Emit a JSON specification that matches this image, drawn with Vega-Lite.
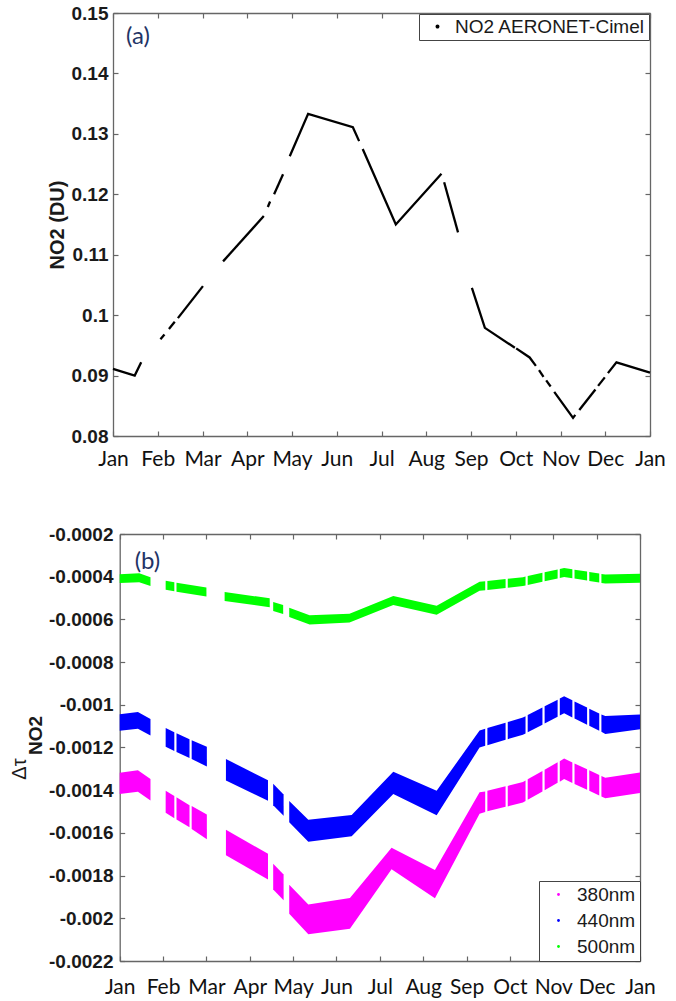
{
  "$schema": "https://vega.github.io/schema/vega-lite/v6.json",
  "background": "white",
  "padding": {"left": 9, "top": 4, "right": 5, "bottom": 5},
  "spacing": 56,
  "config": {
    "view": {"stroke": null},
    "axis": {"domainColor": "#666666", "tickColor": "#666666", "domainWidth": 1.3, "tickWidth": 1.2, "grid": false, "labelColor": "#1a1a1a", "titleColor": "#1a1a1a"}
  },
  "resolve": {"scale": {"x": "independent", "y": "independent", "color": "independent"}},
  "datasets": {
    "no2": [
      {"s": 1, "m": 0, "v": 0.0911}, {"s": 1, "m": 0.485, "v": 0.09}, {"s": 1, "m": 0.63, "v": 0.0922},
      {"s": 2, "m": 1.06, "v": 0.096}, {"s": 2, "m": 1.15, "v": 0.0968},
      {"s": 3, "m": 1.25, "v": 0.0977}, {"s": 3, "m": 1.38, "v": 0.0989},
      {"s": 4, "m": 1.45, "v": 0.0995}, {"s": 4, "m": 2.01, "v": 0.1048},
      {"s": 5, "m": 2.46, "v": 0.1089}, {"s": 5, "m": 3.37, "v": 0.1164},
      {"s": 6, "m": 3.46, "v": 0.1179}, {"s": 6, "m": 3.51, "v": 0.1188},
      {"s": 7, "m": 3.6, "v": 0.12}, {"s": 7, "m": 3.8, "v": 0.1233},
      {"s": 8, "m": 3.95, "v": 0.1263}, {"s": 8, "m": 4.36, "v": 0.1333}, {"s": 8, "m": 5.36, "v": 0.1311}, {"s": 8, "m": 5.5, "v": 0.1288},
      {"s": 9, "m": 5.58, "v": 0.1275}, {"s": 9, "m": 6.32, "v": 0.115}, {"s": 9, "m": 7.34, "v": 0.1234},
      {"s": 10, "m": 7.4, "v": 0.122}, {"s": 10, "m": 7.71, "v": 0.1137},
      {"s": 11, "m": 8.02, "v": 0.1045}, {"s": 11, "m": 8.31, "v": 0.0979}, {"s": 11, "m": 8.98, "v": 0.0946},
      {"s": 12, "m": 9.01, "v": 0.0945}, {"s": 12, "m": 9.31, "v": 0.093}, {"s": 12, "m": 9.45, "v": 0.0916},
      {"s": 13, "m": 9.52, "v": 0.0909}, {"s": 13, "m": 9.62, "v": 0.0898},
      {"s": 14, "m": 9.68, "v": 0.0892}, {"s": 14, "m": 9.78, "v": 0.0882},
      {"s": 15, "m": 9.86, "v": 0.0873}, {"s": 15, "m": 10.28, "v": 0.083}, {"s": 15, "m": 10.33, "v": 0.0835},
      {"s": 16, "m": 10.42, "v": 0.0843}, {"s": 16, "m": 10.78, "v": 0.0877},
      {"s": 17, "m": 10.84, "v": 0.0883}, {"s": 17, "m": 10.99, "v": 0.0897},
      {"s": 18, "m": 11.06, "v": 0.0904}, {"s": 18, "m": 11.25, "v": 0.0922}, {"s": 18, "m": 12, "v": 0.0905}
    ],
    "tau": [
      {"wl": "500nm", "s": 1, "m": 0, "hi": -0.000388, "lo": -0.00043},
      {"wl": "500nm", "s": 1, "m": 0.45, "hi": -0.000384, "lo": -0.000426},
      {"wl": "500nm", "s": 1, "m": 0.71, "hi": -0.000402, "lo": -0.000444},
      {"wl": "500nm", "s": 2, "m": 1.06, "hi": -0.000419, "lo": -0.000461},
      {"wl": "500nm", "s": 2, "m": 1.26, "hi": -0.000426, "lo": -0.000468},
      {"wl": "500nm", "s": 3, "m": 1.31, "hi": -0.000428, "lo": -0.00047},
      {"wl": "500nm", "s": 3, "m": 2.0, "hi": -0.000451, "lo": -0.000493},
      {"wl": "500nm", "s": 4, "m": 2.42, "hi": -0.000472, "lo": -0.000514},
      {"wl": "500nm", "s": 4, "m": 3.46, "hi": -0.000501, "lo": -0.000543},
      {"wl": "500nm", "s": 5, "m": 3.54, "hi": -0.000519, "lo": -0.000561},
      {"wl": "500nm", "s": 5, "m": 3.77, "hi": -0.000533, "lo": -0.000575},
      {"wl": "500nm", "s": 6, "m": 3.91, "hi": -0.000545, "lo": -0.000589},
      {"wl": "500nm", "s": 6, "m": 4.38, "hi": -0.00058, "lo": -0.000624},
      {"wl": "500nm", "s": 6, "m": 5.3, "hi": -0.000573, "lo": -0.000615},
      {"wl": "500nm", "s": 6, "m": 6.31, "hi": -0.00049, "lo": -0.000532},
      {"wl": "500nm", "s": 6, "m": 7.31, "hi": -0.000536, "lo": -0.000578},
      {"wl": "500nm", "s": 6, "m": 8.3, "hi": -0.000424, "lo": -0.000466},
      {"wl": "500nm", "s": 6, "m": 8.43, "hi": -0.000421, "lo": -0.000463},
      {"wl": "500nm", "s": 7, "m": 8.48, "hi": -0.00042, "lo": -0.000462},
      {"wl": "500nm", "s": 7, "m": 8.9, "hi": -0.000411, "lo": -0.000453},
      {"wl": "500nm", "s": 8, "m": 8.95, "hi": -0.00041, "lo": -0.000452},
      {"wl": "500nm", "s": 8, "m": 9.3, "hi": -0.000402, "lo": -0.000444},
      {"wl": "500nm", "s": 8, "m": 9.36, "hi": -0.000399, "lo": -0.000441},
      {"wl": "500nm", "s": 9, "m": 9.41, "hi": -0.000397, "lo": -0.000439},
      {"wl": "500nm", "s": 9, "m": 9.75, "hi": -0.000382, "lo": -0.000424},
      {"wl": "500nm", "s": 10, "m": 9.8, "hi": -0.000379, "lo": -0.000421},
      {"wl": "500nm", "s": 10, "m": 10.1, "hi": -0.000366, "lo": -0.000408},
      {"wl": "500nm", "s": 11, "m": 10.15, "hi": -0.000364, "lo": -0.000406},
      {"wl": "500nm", "s": 11, "m": 10.25, "hi": -0.000359, "lo": -0.000401},
      {"wl": "500nm", "s": 11, "m": 10.44, "hi": -0.000365, "lo": -0.000407},
      {"wl": "500nm", "s": 12, "m": 10.49, "hi": -0.000367, "lo": -0.000409},
      {"wl": "500nm", "s": 12, "m": 10.78, "hi": -0.000376, "lo": -0.000418},
      {"wl": "500nm", "s": 13, "m": 10.83, "hi": -0.000378, "lo": -0.00042},
      {"wl": "500nm", "s": 13, "m": 11.06, "hi": -0.000385, "lo": -0.000427},
      {"wl": "500nm", "s": 14, "m": 11.11, "hi": -0.000387, "lo": -0.000429},
      {"wl": "500nm", "s": 14, "m": 11.2, "hi": -0.00039, "lo": -0.000432},
      {"wl": "500nm", "s": 14, "m": 12, "hi": -0.000386, "lo": -0.000428},

      {"wl": "440nm", "s": 1, "m": 0, "hi": -0.001044, "lo": -0.001122},
      {"wl": "440nm", "s": 1, "m": 0.42, "hi": -0.001034, "lo": -0.001112},
      {"wl": "440nm", "s": 1, "m": 0.71, "hi": -0.001066, "lo": -0.001144},
      {"wl": "440nm", "s": 2, "m": 1.06, "hi": -0.001109, "lo": -0.001197},
      {"wl": "440nm", "s": 2, "m": 1.26, "hi": -0.001128, "lo": -0.001216},
      {"wl": "440nm", "s": 3, "m": 1.31, "hi": -0.001133, "lo": -0.001221},
      {"wl": "440nm", "s": 3, "m": 1.61, "hi": -0.001161, "lo": -0.001249},
      {"wl": "440nm", "s": 4, "m": 1.66, "hi": -0.001166, "lo": -0.001254},
      {"wl": "440nm", "s": 4, "m": 2.01, "hi": -0.001197, "lo": -0.001289},
      {"wl": "440nm", "s": 5, "m": 2.45, "hi": -0.001254, "lo": -0.001354},
      {"wl": "440nm", "s": 5, "m": 3.42, "hi": -0.001353, "lo": -0.001449},
      {"wl": "440nm", "s": 6, "m": 3.54, "hi": -0.00137, "lo": -0.00147},
      {"wl": "440nm", "s": 6, "m": 3.78, "hi": -0.00142, "lo": -0.00152},
      {"wl": "440nm", "s": 7, "m": 3.91, "hi": -0.00145, "lo": -0.00155},
      {"wl": "440nm", "s": 7, "m": 4.35, "hi": -0.001538, "lo": -0.001642},
      {"wl": "440nm", "s": 7, "m": 5.35, "hi": -0.001516, "lo": -0.001616},
      {"wl": "440nm", "s": 7, "m": 6.31, "hi": -0.001314, "lo": -0.001418},
      {"wl": "440nm", "s": 7, "m": 7.31, "hi": -0.001403, "lo": -0.001517},
      {"wl": "440nm", "s": 7, "m": 8.3, "hi": -0.00112, "lo": -0.0012},
      {"wl": "440nm", "s": 7, "m": 8.43, "hi": -0.001112, "lo": -0.001192},
      {"wl": "440nm", "s": 8, "m": 8.48, "hi": -0.001109, "lo": -0.001189},
      {"wl": "440nm", "s": 8, "m": 8.9, "hi": -0.001084, "lo": -0.001164},
      {"wl": "440nm", "s": 9, "m": 8.95, "hi": -0.001081, "lo": -0.001161},
      {"wl": "440nm", "s": 9, "m": 9.3, "hi": -0.00106, "lo": -0.00114},
      {"wl": "440nm", "s": 9, "m": 9.36, "hi": -0.001054, "lo": -0.001134},
      {"wl": "440nm", "s": 10, "m": 9.41, "hi": -0.001048, "lo": -0.001128},
      {"wl": "440nm", "s": 10, "m": 9.75, "hi": -0.001013, "lo": -0.001093},
      {"wl": "440nm", "s": 11, "m": 9.8, "hi": -0.001007, "lo": -0.001087},
      {"wl": "440nm", "s": 11, "m": 10.1, "hi": -0.000976, "lo": -0.001056},
      {"wl": "440nm", "s": 12, "m": 10.15, "hi": -0.00097, "lo": -0.00105},
      {"wl": "440nm", "s": 12, "m": 10.25, "hi": -0.00096, "lo": -0.00104},
      {"wl": "440nm", "s": 12, "m": 10.44, "hi": -0.000979, "lo": -0.001059},
      {"wl": "440nm", "s": 13, "m": 10.49, "hi": -0.000984, "lo": -0.001064},
      {"wl": "440nm", "s": 13, "m": 10.78, "hi": -0.001013, "lo": -0.001093},
      {"wl": "440nm", "s": 14, "m": 10.83, "hi": -0.001018, "lo": -0.001098},
      {"wl": "440nm", "s": 14, "m": 11.06, "hi": -0.001041, "lo": -0.001121},
      {"wl": "440nm", "s": 15, "m": 11.11, "hi": -0.001046, "lo": -0.001126},
      {"wl": "440nm", "s": 15, "m": 11.2, "hi": -0.001053, "lo": -0.001137},
      {"wl": "440nm", "s": 15, "m": 12, "hi": -0.001045, "lo": -0.001115},

      {"wl": "380nm", "s": 1, "m": 0, "hi": -0.001318, "lo": -0.001418},
      {"wl": "380nm", "s": 1, "m": 0.42, "hi": -0.001307, "lo": -0.001407},
      {"wl": "380nm", "s": 1, "m": 0.71, "hi": -0.001348, "lo": -0.001448},
      {"wl": "380nm", "s": 2, "m": 1.06, "hi": -0.001402, "lo": -0.001506},
      {"wl": "380nm", "s": 2, "m": 1.26, "hi": -0.001427, "lo": -0.001531},
      {"wl": "380nm", "s": 3, "m": 1.31, "hi": -0.001433, "lo": -0.001537},
      {"wl": "380nm", "s": 3, "m": 1.61, "hi": -0.00147, "lo": -0.001574},
      {"wl": "380nm", "s": 4, "m": 1.66, "hi": -0.001474, "lo": -0.001582},
      {"wl": "380nm", "s": 4, "m": 2.01, "hi": -0.001514, "lo": -0.00163},
      {"wl": "380nm", "s": 5, "m": 2.45, "hi": -0.001585, "lo": -0.001705},
      {"wl": "380nm", "s": 5, "m": 3.42, "hi": -0.001698, "lo": -0.001818},
      {"wl": "380nm", "s": 6, "m": 3.54, "hi": -0.001745, "lo": -0.001865},
      {"wl": "380nm", "s": 6, "m": 3.78, "hi": -0.001795, "lo": -0.001915},
      {"wl": "380nm", "s": 7, "m": 3.91, "hi": -0.001843, "lo": -0.001979},
      {"wl": "380nm", "s": 7, "m": 4.35, "hi": -0.001935, "lo": -0.002075},
      {"wl": "380nm", "s": 7, "m": 5.31, "hi": -0.001905, "lo": -0.002049},
      {"wl": "380nm", "s": 7, "m": 6.27, "hi": -0.00167, "lo": -0.00177},
      {"wl": "380nm", "s": 7, "m": 7.27, "hi": -0.001774, "lo": -0.001906},
      {"wl": "380nm", "s": 7, "m": 8.3, "hi": -0.00141, "lo": -0.00151},
      {"wl": "380nm", "s": 7, "m": 8.43, "hi": -0.001406, "lo": -0.001502},
      {"wl": "380nm", "s": 8, "m": 8.48, "hi": -0.001403, "lo": -0.001499},
      {"wl": "380nm", "s": 8, "m": 8.9, "hi": -0.001382, "lo": -0.001478},
      {"wl": "380nm", "s": 9, "m": 8.95, "hi": -0.00138, "lo": -0.001476},
      {"wl": "380nm", "s": 9, "m": 9.3, "hi": -0.001362, "lo": -0.001458},
      {"wl": "380nm", "s": 9, "m": 9.36, "hi": -0.001355, "lo": -0.001451},
      {"wl": "380nm", "s": 10, "m": 9.41, "hi": -0.001349, "lo": -0.001445},
      {"wl": "380nm", "s": 10, "m": 9.75, "hi": -0.00131, "lo": -0.001406},
      {"wl": "380nm", "s": 11, "m": 9.8, "hi": -0.001304, "lo": -0.0014},
      {"wl": "380nm", "s": 11, "m": 10.1, "hi": -0.001269, "lo": -0.001365},
      {"wl": "380nm", "s": 12, "m": 10.15, "hi": -0.001264, "lo": -0.00136},
      {"wl": "380nm", "s": 12, "m": 10.25, "hi": -0.001252, "lo": -0.001348},
      {"wl": "380nm", "s": 12, "m": 10.44, "hi": -0.00127, "lo": -0.001366},
      {"wl": "380nm", "s": 13, "m": 10.49, "hi": -0.001275, "lo": -0.001371},
      {"wl": "380nm", "s": 13, "m": 10.78, "hi": -0.001302, "lo": -0.001398},
      {"wl": "380nm", "s": 14, "m": 10.83, "hi": -0.001307, "lo": -0.001403},
      {"wl": "380nm", "s": 14, "m": 11.06, "hi": -0.001329, "lo": -0.001425},
      {"wl": "380nm", "s": 15, "m": 11.11, "hi": -0.001333, "lo": -0.001429},
      {"wl": "380nm", "s": 15, "m": 11.2, "hi": -0.001342, "lo": -0.001438},
      {"wl": "380nm", "s": 15, "m": 12, "hi": -0.001317, "lo": -0.001413}
    ],
    "annA": [{"m": 0.29, "v": 0.1461, "t": "(a)"}],
    "annB": [{"m": 0.346, "v": -0.000331, "t": "(b)"}]
  },
  "vconcat": [
    {
      "width": 537,
      "height": 423,
      "resolve": {"axis": {"x": "independent", "y": "independent"}},
      "layer": [
        {
          "data": {"name": "no2"},
          "mark": {"type": "line", "strokeWidth": 2.3, "strokeCap": "butt"},
          "encoding": {
            "x": {"field": "m", "type": "quantitative",
              "scale": {"domain": [0, 12], "nice": false, "zero": false},
              "axis": {"orient": "bottom", "title": null, "values": [0,1,2,3,4,5,6,7,8,9,10,11,12],
                "labelExpr": "['Jan','Feb','Mar','Apr','May','Jun','Jul','Aug','Sep','Oct','Nov','Dec','Jan'][datum.value]",
                "tickSize": -5, "labelPadding": 17, "labelFlush": false, "labelOverlap": false,
                "labelFont": "Lato", "labelFontSize": 21, "labelColor": "#111111"}},
            "y": {"field": "v", "type": "quantitative",
              "scale": {"domain": [0.08, 0.15], "nice": false, "zero": false},
              "axis": {"orient": "left", "values": [0.08,0.09,0.1,0.11,0.12,0.13,0.14,0.15], "format": "~g",
                "tickSize": -5, "labelPadding": 10, "labelFont": "Liberation Sans", "labelFontWeight": "bold", "labelFontSize": 19,
                "title": "NO2 (DU)", "titleFont": "Liberation Sans", "titleFontSize": 20, "titleFontWeight": "bold", "titlePadding": 4}},
            "detail": {"field": "s", "type": "nominal"},
            "color": {"datum": "NO2 AERONET-Cimel", "type": "nominal",
              "scale": {"range": ["black"]},
              "legend": {"orient": "top-right", "offset": 1, "title": null, "symbolType": "circle", "symbolSize": 6,
                "symbolFillColor": "black", "symbolStrokeColor": "black", "labelFont": "Liberation Sans", "labelFontSize": 19,
                "labelLimit": 400, "labelColor": "#1a1a1a", "strokeColor": "#444444", "fillColor": "white",
                "padding": 3, "symbolOffset": 6, "labelOffset": 8}}
          }
        },
        {
          "data": {"name": "no2"},
          "mark": {"type": "point", "opacity": 0},
          "encoding": {
            "x": {"field": "m", "type": "quantitative", "scale": {"domain": [0, 12], "nice": false, "zero": false},
              "axis": {"orient": "top", "title": null, "values": [0,1,2,3,4,5,6,7,8,9,10,11,12], "labels": false, "tickSize": -5}},
            "y": {"field": "v", "type": "quantitative", "scale": {"domain": [0.08, 0.15], "nice": false, "zero": false},
              "axis": {"orient": "right", "title": null, "values": [0.08,0.09,0.1,0.11,0.12,0.13,0.14,0.15], "labels": false, "tickSize": -5}}
          }
        },
        {
          "data": {"name": "annA"},
          "mark": {"type": "text", "align": "left", "baseline": "middle", "font": "Lato", "fontSize": 24, "color": "#1f3466"},
          "encoding": {
            "x": {"field": "m", "type": "quantitative", "axis": null},
            "y": {"field": "v", "type": "quantitative", "axis": null},
            "text": {"field": "t"}
          }
        }
      ]
    },
    {
      "width": 527,
      "height": 427,
      "resolve": {"axis": {"x": "independent", "y": "independent"}},
      "layer": [
        {
          "data": {"name": "tau"},
          "mark": {"type": "area", "interpolate": "linear"},
          "encoding": {
            "x": {"field": "m", "type": "quantitative",
              "scale": {"domain": [0, 12], "nice": false, "zero": false, "range": [6.7, 527]},
              "axis": {"orient": "bottom", "title": null, "values": [0,1,2,3,4,5,6,7,8,9,10,11,12],
                "labelExpr": "['Jan','Feb','Mar','Apr','May','Jun','Jul','Aug','Sep','Oct','Nov','Dec','Jan'][datum.value]",
                "tickSize": -5, "labelPadding": 20, "labelFlush": false, "labelOverlap": false,
                "labelFont": "Lato", "labelFontSize": 21, "labelColor": "#111111"}},
            "y": {"field": "hi", "type": "quantitative", "stack": null,
              "scale": {"domain": [-0.0022, -0.0002], "nice": false, "zero": false},
              "axis": {"orient": "left", "offset": -6.7,
                "values": [-0.0022,-0.002,-0.0018,-0.0016,-0.0014,-0.0012,-0.001,-0.0008,-0.0006,-0.0004,-0.0002],
                "labelExpr": "replace(format(datum.value, '~g'), '\u2212', '-')",
                "tickSize": -5, "labelPadding": 11.7, "labelFont": "Liberation Sans", "labelFontWeight": "bold", "labelFontSize": 19,
                "title": "NO2", "titleFont": "Liberation Sans", "titleFontSize": 19, "titleFontWeight": "bold", "titlePadding": 3, "titleY": 201}},
            "y2": {"field": "lo"},
            "detail": {"field": "s", "type": "nominal"},
            "color": {"field": "wl", "type": "nominal",
              "scale": {"domain": ["380nm", "440nm", "500nm"], "range": ["#ff00ff", "#0000ff", "#00ff00"]},
              "legend": {"orient": "bottom-right", "offset": 0, "title": null, "symbolType": "circle", "symbolSize": 8,
                "labelFont": "Liberation Sans", "labelFontSize": 19, "labelColor": "#1a1a1a", "labelLimit": 200,
                "strokeColor": "#444444", "fillColor": "white", "padding": 4, "rowPadding": 6, "symbolOffset": 6, "labelOffset": 9}}
          }
        },
        {
          "data": {"name": "tau"},
          "mark": {"type": "point", "opacity": 0},
          "encoding": {
            "x": {"field": "m", "type": "quantitative",
              "scale": {"domain": [0, 12], "nice": false, "zero": false, "range": [6.7, 527]},
              "axis": {"orient": "top", "title": null, "values": [0,1,2,3,4,5,6,7,8,9,10,11,12], "labels": false, "tickSize": -5}},
            "y": {"field": "hi", "type": "quantitative",
              "scale": {"domain": [-0.0022, -0.0002], "nice": false, "zero": false},
              "axis": {"orient": "right", "title": null,
                "values": [-0.0022,-0.002,-0.0018,-0.0016,-0.0014,-0.0012,-0.001,-0.0008,-0.0006,-0.0004,-0.0002],
                "labels": false, "tickSize": -5}}
          }
        },
        {
          "data": {"name": "tau"},
          "mark": {"type": "point", "opacity": 0},
          "encoding": {
            "x": {"field": "m", "type": "quantitative", "axis": null,
              "scale": {"domain": [0, 12], "nice": false, "zero": false, "range": [6.7, 527]}},
            "y": {"field": "hi", "type": "quantitative",
              "scale": {"domain": [-0.0022, -0.0002], "nice": false, "zero": false},
              "axis": {"orient": "left", "domain": false, "ticks": false, "labels": false,
                "title": "Δτ", "titleFont": "Liberation Sans", "titleFontSize": 20, "titleFontWeight": "normal",
                "titlePadding": 84, "titleY": 234.5}}
          }
        },
        {
          "data": {"name": "annB"},
          "mark": {"type": "text", "align": "left", "baseline": "middle", "font": "Lato", "fontSize": 24, "color": "#1f3466"},
          "encoding": {
            "x": {"field": "m", "type": "quantitative", "axis": null},
            "y": {"field": "v", "type": "quantitative", "axis": null},
            "text": {"field": "t"}
          }
        }
      ]
    }
  ]
}
